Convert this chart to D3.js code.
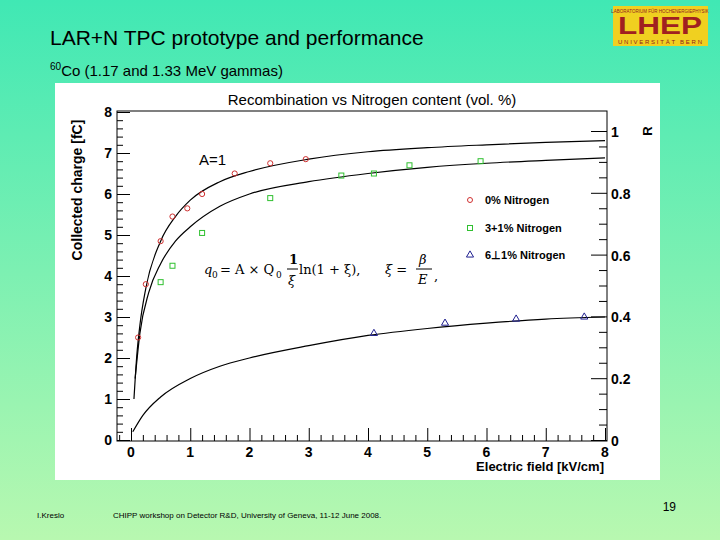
<!DOCTYPE html><html><head><meta charset="utf-8"><script src="https://cdn.jsdelivr.net/npm/d3@7"></script>
<style>body{margin:0}svg{display:block}</style></head><body><svg id="c" width="720" height="540"></svg>
<script>
const red=[[0.12,2.5],[0.25,3.8],[0.5,4.85],[0.7,5.45],[0.95,5.65],[1.2,6.0],[1.75,6.5],[2.35,6.75],[2.95,6.85]];
const green=[[0.5,3.85],[0.7,4.25],[1.2,5.05],[2.35,5.9],[3.55,6.45],[4.1,6.5],[4.7,6.7],[5.9,6.8]];
const blue=[[4.1,2.6],[5.3,2.85],[6.5,2.95],[7.65,3.0]];
const curveTop=[[0.05,1.0],[0.1,2.1],[0.15,2.8],[0.25,3.7],[0.5,4.85],[0.75,5.45],[1,5.85],[1.5,6.3],[2,6.55],[3,6.85],[4,7.03],[5,7.13],[6,7.2],[7,7.26],[8,7.3]];
const curveMid=[[0.07,1.5],[0.15,2.6],[0.3,3.6],[0.5,4.3],[0.75,4.85],[1,5.2],[1.5,5.7],[2,6.0],[3,6.3],[4,6.5],[5,6.65],[6,6.75],[7,6.82],[8,6.88]];
const curveBot=[[0.03,0.2],[0.2,0.6],[0.5,1.05],[1,1.5],[1.5,1.8],[2,2.0],[3,2.3],[4,2.55],[5,2.72],[6,2.85],[7,2.95],[8,3.0]];
const legend=["0% Nitrogen","3+1% Nitrogen","6\u22a51% Nitrogen"];
const xTicks=[0,1,2,3,4,5,6,7,8], yTicks=[0,1,2,3,4,5,6,7,8], rTicks=[0,0.2,0.4,0.6,0.8,1];

const svg=d3.select("#c");
const defs=svg.append("defs");
const g=defs.append("linearGradient").attr("id","bg").attr("x1",0).attr("y1",0).attr("x2",0).attr("y2",1);
g.append("stop").attr("offset",0).attr("stop-color","#40e8b4");
g.append("stop").attr("offset",1).attr("stop-color","#b8f8b0");
svg.append("rect").attr("width",720).attr("height",540).attr("fill","url(#bg)");
svg.append("rect").attr("x",55).attr("y",83).attr("width",605).attr("height",397).attr("fill","#fff");
svg.append("text").attr("x",50).attr("y",45).attr("font-family","Liberation Sans, Arial").attr("font-size",21).text("LAR+N TPC prototype and performance");
const st=svg.append("text").attr("x",50).attr("y",76).attr("font-family","Liberation Sans, Arial").attr("font-size",15);
st.append("tspan").attr("font-size",10).attr("dy",-6).text("60");
st.append("tspan").attr("dy",6).text("Co (1.17 and 1.33 MeV gammas)");
// logo
svg.append("rect").attr("x",613).attr("y",6).attr("width",95).attr("height",40).attr("fill","#f0d020");
svg.append("text").attr("x",660).attr("y",12.5).attr("text-anchor","middle").attr("font-family","Liberation Sans, Arial").attr("font-size",4.5).attr("fill","#902020").text("LABORATORIUM FÜR HOCHENERGIEPHYSIK");
svg.append("text").attr("x",660).attr("y",34).attr("text-anchor","middle").attr("font-family","Liberation Sans, Arial").attr("font-weight","bold").attr("font-size",24).attr("fill","#a02020").attr("textLength",84).attr("lengthAdjust","spacingAndGlyphs").text("LHEP");
svg.append("text").attr("x",660).attr("y",44).attr("text-anchor","middle").attr("font-family","Liberation Sans, Arial").attr("font-size",6).attr("fill","#902020").attr("textLength",84).text("UNIVERSITÄT BERN");

const x=d3.scaleLinear().domain([0,8]).range([131,605]);
const y=d3.scaleLinear().domain([0,8]).range([440,112]);
const r=d3.scaleLinear().domain([0,1]).range([440,131]);
const L=117,R=607,T=111,B=441;
svg.append("rect").attr("x",L).attr("y",T).attr("width",R-L).attr("height",B-T).attr("fill","none").attr("stroke","#000");
const F="Liberation Sans, Arial";
const ya=svg.append("g").attr("transform",`translate(${L},0)`).call(d3.axisRight(y).tickValues(d3.range(0,8.01,0.2)).tickSize(5).tickFormat(""));
ya.selectAll(".tick line").attr("x2",(d)=>Math.abs(d-Math.round(d))<1e-6?13:6);
ya.select(".domain").remove();
yTicks.forEach(v=>svg.append("text").attr("x",L-5).attr("y",y(v)+5).attr("text-anchor","end").attr("font-family",F).attr("font-weight","bold").attr("font-size",14).text(v));
const xa=svg.append("g").attr("transform",`translate(0,${B})`).call(d3.axisTop(x).tickValues(d3.range(-0.2,8.01,0.2)).tickSize(6).tickFormat(""));
xa.selectAll(".tick line").attr("y2",(d)=>Math.abs(d-Math.round(d))<1e-6?-13:-6);
xa.select(".domain").remove();
xTicks.forEach(v=>svg.append("text").attr("x",x(v)).attr("y",B+16).attr("text-anchor","middle").attr("font-family",F).attr("font-weight","bold").attr("font-size",14).text(v));
const ra=svg.append("g").attr("transform",`translate(${R},0)`).call(d3.axisLeft(r).tickValues(d3.range(0,1.001,0.05)).tickFormat(""));
ra.selectAll(".tick line").attr("x2",(d,i)=>i%4==0?-16:-8);
ra.select(".domain").remove();
rTicks.forEach(v=>svg.append("text").attr("x",R+4).attr("y",r(v)+6).attr("font-family",F).attr("font-weight","bold").attr("font-size",14).text(v));
svg.append("text").attr("transform","translate(652,131) rotate(-90)").attr("text-anchor","middle").attr("font-family",F).attr("font-weight","bold").attr("font-size",13).text("R");
svg.append("text").attr("transform","translate(82,190) rotate(-90)").attr("text-anchor","middle").attr("font-family",F).attr("font-weight","bold").attr("font-size",14).text("Collected charge [fC]");
svg.append("text").attr("x",604).attr("y",471).attr("text-anchor","end").attr("font-family",F).attr("font-weight","bold").attr("font-size",13).text("Electric field [kV/cm]");
svg.append("text").attr("x",372).attr("y",105).attr("text-anchor","middle").attr("font-family",F).attr("font-size",15).text("Recombination vs Nitrogen content (vol. %)");
svg.append("text").attr("x",199).attr("y",165).attr("font-family",F).attr("font-size",15).text("A=1");
const fm=svg.append("g").attr("font-family","DejaVu Serif, Liberation Serif").attr("font-size",13);
fm.append("text").attr("x",204).attr("y",274).attr("font-style","italic").text("q");
fm.append("text").attr("x",212).attr("y",278).attr("font-size",9).text("0");
fm.append("text").attr("x",220).attr("y",274).text("= A × Q");
fm.append("text").attr("x",276).attr("y",278).attr("font-size",9).text("0");
fm.append("text").attr("x",289).attr("y",264).attr("font-size",13).attr("font-weight","bold").text("1");
svg.append("line").attr("x1",287).attr("x2",298).attr("y1",269).attr("y2",269).attr("stroke","#000");
fm.append("text").attr("x",288).attr("y",285).attr("font-style","italic").text("ξ");
fm.append("text").attr("x",299).attr("y",274).text("ln(1 + ξ),");
fm.append("text").attr("x",385).attr("y",274).attr("font-style","italic").text("ξ =");
fm.append("text").attr("x",419).attr("y",264).attr("font-style","italic").text("β");
svg.append("line").attr("x1",416).attr("x2",432).attr("y1",269).attr("y2",269).attr("stroke","#000");
fm.append("text").attr("x",418).attr("y",284).attr("font-style","italic").text("E");
fm.append("text").attr("x",434).attr("y",280).text(",");
const line=d3.line().x(d=>x(d[0])).y(d=>y(d[1])).curve(d3.curveMonotoneX);
[curveTop,curveMid,curveBot].forEach(c=>svg.append("path").attr("d",line(c)).attr("fill","none").attr("stroke","#000").attr("stroke-width",1.2));
svg.selectAll(".rp").data(red).join("circle").attr("cx",d=>x(d[0])).attr("cy",d=>y(d[1])).attr("r",2.6).attr("fill","none").attr("stroke","#d03030");
svg.selectAll(".gp").data(green).join("rect").attr("x",d=>x(d[0])-2.5).attr("y",d=>y(d[1])-2.5).attr("width",5).attr("height",5).attr("fill","none").attr("stroke","#30c030");
const tri=d3.symbol().type(d3.symbolTriangle).size(22);
svg.selectAll(".bp").data(blue).join("path").attr("d",tri).attr("transform",d=>`translate(${x(d[0])},${y(d[1])})`).attr("fill","none").attr("stroke","#202090");
const ly=[200,228,255];
legend.forEach((t,i)=>{
 svg.append("text").attr("x",485).attr("y",ly[i]+4).attr("font-family",F).attr("font-weight","bold").attr("font-size",11).text(t);
});
svg.append("circle").attr("cx",470).attr("cy",ly[0]).attr("r",2.5).attr("fill","none").attr("stroke","#d03030");
svg.append("rect").attr("x",467.5).attr("y",ly[1]-2.5).attr("width",5).attr("height",5).attr("fill","none").attr("stroke","#30c030");
svg.append("path").attr("d",tri).attr("transform",`translate(470,${ly[2]})`).attr("fill","none").attr("stroke","#202090");
svg.append("text").attr("x",37).attr("y",518).attr("font-family",F).attr("font-size",8).text("I.Kreslo");
svg.append("text").attr("x",113).attr("y",518).attr("font-family",F).attr("font-size",8).text("CHIPP workshop on Detector R&D, University of Geneva, 11-12 June 2008.");
svg.append("text").attr("x",676).attr("y",511).attr("text-anchor","end").attr("font-family",F).attr("font-size",12).text("19");
</script></body></html>
